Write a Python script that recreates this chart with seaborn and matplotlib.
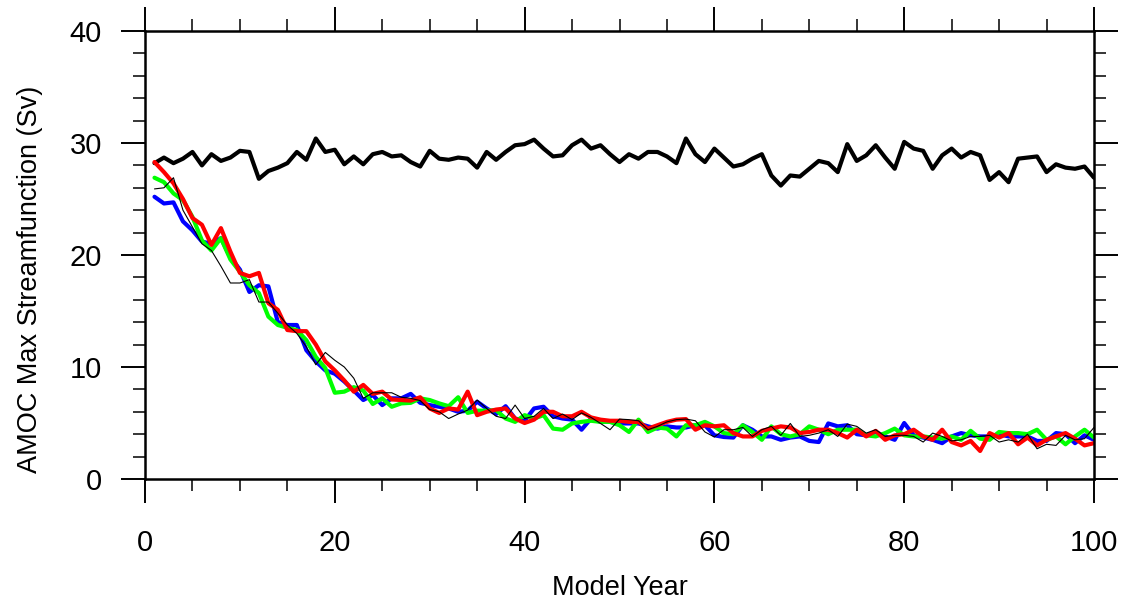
import numpy as np
import pandas as pd
import matplotlib
matplotlib.use("Agg")
import matplotlib.pyplot as plt
import seaborn as sns
from matplotlib.ticker import MultipleLocator

years = list(range(1, 101))

control = [28.2,28.7,28.2,28.6,29.2,28.0,29.0,28.4,28.7,29.3,
           29.2,26.8,27.5,27.8,28.2,29.2,28.5,30.4,29.2,29.4,
           28.1,28.8,28.1,29.0,29.2,28.8,28.9,28.3,27.9,29.3,
           28.6,28.5,28.7,28.6,27.8,29.2,28.5,29.2,29.8,29.9,
           30.3,29.5,28.8,28.9,29.8,30.3,29.5,29.8,29.0,28.3,
           29.0,28.6,29.2,29.2,28.8,28.2,30.4,29.0,28.3,29.5,
           28.7,27.9,28.1,28.6,29.0,27.1,26.2,27.1,27.0,27.7,
           28.4,28.2,27.4,29.9,28.4,28.9,29.8,28.7,27.7,30.1,
           29.5,29.3,27.7,28.9,29.5,28.7,29.2,28.9,26.7,27.4,
           26.5,28.6,28.7,28.8,27.4,28.1,27.8,27.7,27.9,26.9]

thin_black = [25.9,26.0,26.9,24.0,22.5,21.0,20.4,19.0,17.5,17.5,17.8,15.8,
              15.8,14.8,13.75,13.0,11.8,10.2,11.3,10.6,10.0,9.0,7.2,7.7,
              7.7,7.7,7.3,7.2,7.0,6.2,6.0,5.4,5.8,6.15,7.05,6.3,
              5.6,5.4,6.6,5.4,5.6,6.3,5.4,5.8,5.3,5.9,5.5,4.96,
              4.4,5.35,5.3,5.2,4.4,4.7,5.1,5.3,5.35,5.2,4.2,3.75,
              4.4,4.4,4.6,3.8,4.4,4.7,3.9,4.96,3.8,3.9,4.1,4.4,
              3.8,4.9,4.7,4.1,4.4,3.8,3.9,3.9,3.8,3.3,4.1,3.8,
              3.4,3.5,3.8,3.8,3.9,3.3,3.5,3.3,4.0,2.7,3.1,3.0,
              3.9,3.5,3.6,4.6]

blue = [25.2,24.6,24.7,23.0,22.2,21.2,21.0,21.5,19.8,18.7,16.7,17.3,
        17.2,14.0,13.75,13.75,11.5,10.5,9.7,9.4,8.7,7.9,7.05,7.5,
        6.6,7.2,7.2,7.6,6.8,6.6,6.45,6.3,6.0,6.1,6.9,6.3,
        5.8,6.5,5.4,5.2,6.3,6.45,5.6,5.4,5.3,4.4,5.4,5.1,
        5.1,4.96,4.96,4.96,4.7,4.5,4.7,4.6,4.6,4.8,4.8,3.9,
        3.75,3.7,4.8,4.4,3.8,3.8,3.5,3.7,3.8,3.4,3.3,4.96,
        4.7,4.8,4.0,3.9,4.2,3.8,3.5,5.0,3.9,3.7,3.5,3.2,
        3.8,4.1,3.9,3.8,3.8,4.0,3.8,3.8,3.8,3.4,3.4,4.1,
        4.0,3.2,3.9,3.5]

green = [26.9,26.5,25.5,24.9,23.4,21.3,20.4,21.5,19.6,18.5,17.3,16.6,
         14.5,13.75,13.5,13.3,12.4,10.9,9.9,7.7,7.8,8.2,7.9,6.7,
         7.2,6.45,6.75,6.8,7.2,7.05,6.75,6.5,7.3,5.9,6.1,6.1,
         6.15,5.4,5.1,5.7,5.4,5.7,4.5,4.4,4.96,5.1,5.2,5.1,
         5.1,4.8,4.2,5.3,4.2,4.6,4.5,3.8,4.8,4.8,5.1,4.7,
         4.1,4.0,4.8,4.2,3.5,4.7,4.0,3.8,4.0,4.7,4.4,4.0,
         4.4,4.4,4.4,3.9,3.8,4.1,4.5,3.9,3.8,3.8,3.7,3.6,
         3.8,3.5,4.3,3.6,3.5,4.2,4.1,4.1,4.0,4.4,3.5,3.8,
         3.1,3.8,4.4,3.7]

red = [28.3,27.4,26.4,25.0,23.3,22.7,20.9,22.4,20.3,18.4,18.1,18.4,
       15.7,15.1,13.3,13.2,13.2,12.0,10.5,9.7,8.8,7.8,8.4,7.6,
       7.8,7.1,7.05,7.0,7.3,6.3,5.9,6.3,6.2,7.8,5.7,6.0,
       6.2,6.3,5.4,5.0,5.3,6.0,6.0,5.6,5.6,6.0,5.5,5.3,
       5.2,5.2,5.1,5.1,4.5,4.8,5.1,5.3,5.35,4.4,4.8,4.7,
       4.8,4.1,3.8,3.8,4.3,4.5,4.7,4.6,4.1,4.2,4.4,4.4,
       4.1,3.7,4.4,3.8,4.3,3.5,3.9,4.0,4.4,3.8,3.5,4.4,
       3.3,3.0,3.4,2.5,4.1,3.7,4.1,3.1,3.7,3.0,3.5,3.8,
       4.1,3.6,3.0,3.2]

xticks = [0, 20, 40, 60, 80, 100]
yticks = [0, 10, 20, 30, 40]

sns.set_style("ticks")
plt.rcParams['font.family'] = ['Liberation Sans', 'DejaVu Sans']

fig = plt.figure(figsize=(11.26, 6.07), dpi=100)
ax = fig.add_axes([145/1126, 1 - 479/607, (1094 - 145)/1126, (479 - 31)/607])

series = [
    (control, "black", 3.0),
    (blue, "#0000ff", 3.0),
    (green, "#00ff00", 3.0),
    (red, "#ff0000", 3.0),
    (thin_black, "black", 0.8),
]
for vals, col, lw in series:
    sns.lineplot(x=years, y=vals, ax=ax, color=col, linewidth=lw, legend=False)

ax.set_xlim(0, 100)
ax.set_ylim(0, 40)
ax.set_xticks(xticks)
ax.set_yticks(yticks)
ax.xaxis.set_minor_locator(MultipleLocator(5))
ax.yaxis.set_minor_locator(MultipleLocator(2))
ax.tick_params(which="major", direction="out", length=17, width=1.4,
               top=True, right=True, labelsize=21, colors="black")
ax.tick_params(which="minor", direction="out", length=8.5, width=1.1,
               top=True, right=True, colors="black")
ax.tick_params(axis="x", which="major", pad=19)
ax.tick_params(axis="y", which="major", pad=14)
for s in ax.spines.values():
    s.set_visible(True)
    s.set_linewidth(1.8)
    s.set_color("black")

ax.set_xlabel("Model Year", fontsize=19.5, color="black")
ax.set_ylabel("AMOC Max Streamfunction (Sv)", fontsize=19.5, color="black")
ax.xaxis.set_label_coords(0.5, -96 / 448)
ax.yaxis.set_label_coords(-102 / 949, 0.446)

fig.savefig("out.png", dpi=100)
